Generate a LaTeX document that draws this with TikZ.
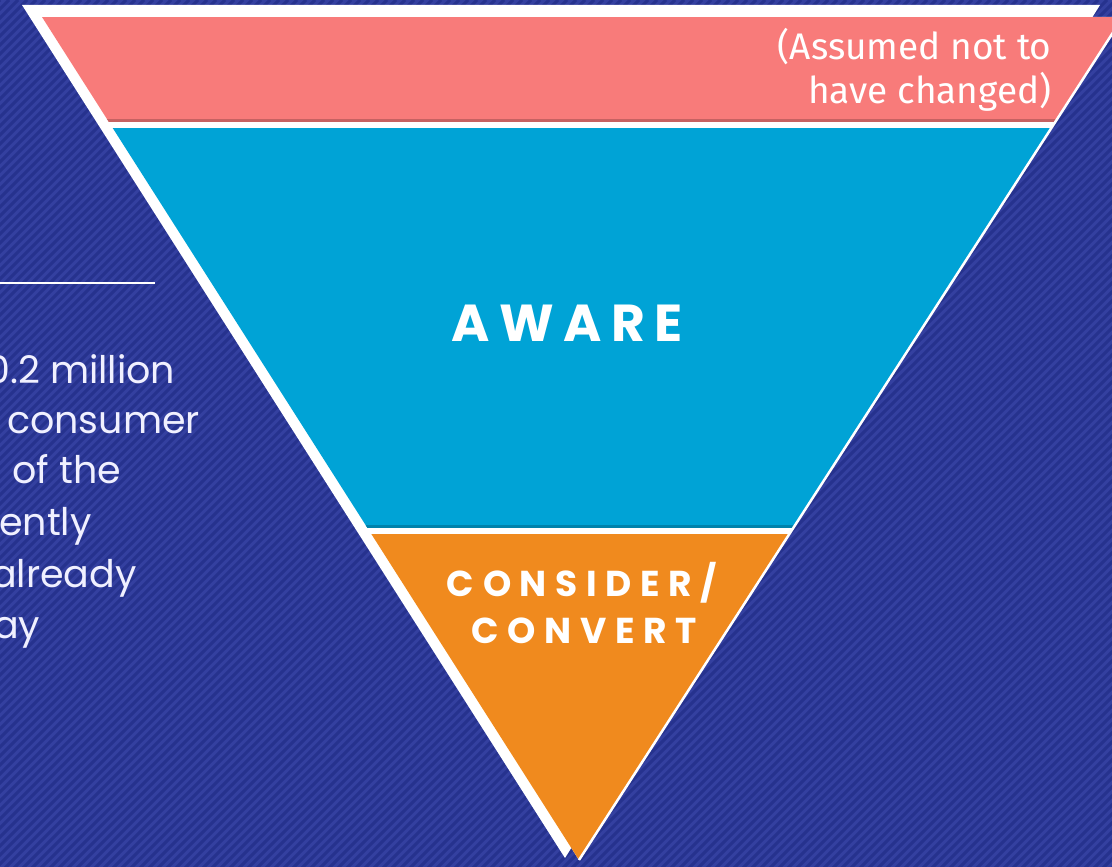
\documentclass[tikz,border=0pt]{standalone}
\usepackage{fontspec}
\setmainfont{Poppins}
\newfontfamily\notefont{Fira Sans}
\newfontfamily\awarefont[LetterSpace=18]{Poppins}
\newfontfamily\convfont[LetterSpace=24]{Poppins}
\definecolor{bgblue}{RGB}{52,64,160}
\definecolor{stripe}{RGB}{38,50,142}
\definecolor{topband}{RGB}{248,123,122}
\definecolor{midband}{RGB}{0,163,214}
\definecolor{lowband}{RGB}{240,138,30}
\newcommand{\band}[3]{
  \fill[#3] (0,#1) rectangle (1200,#2);
  \fill[#3!80!black] (0,#2-3) rectangle (1200,#2);
}

\begin{document}
\begin{tikzpicture}[x=1pt,y=-1pt]
  \useasboundingbox (0,0) rectangle (1112,867);
  \clip (0,0) rectangle (1112,867);
  \fill[bgblue] (0,0) rectangle (1112,867);
  \foreach \i in {-870,-861,...,1112} {
    \draw[stripe, line width=3] (\i,870) -- (\i+870,0);
  }

  \coordinate (wl) at (22,5);
  \coordinate (wr) at (1100,5);
  \coordinate (wt) at (565,858);
  \coordinate (fl) at (42,17);
  \coordinate (fr) at (1123,17);
  \coordinate (ft) at (579,860);

  \fill[white] (wl) -- (wr) -- (wt) -- cycle;
  \begin{scope}
    \clip (fl) -- (fr) -- (ft) -- cycle;
    \fill[white] (0,0) rectangle (1200,870);
    \band{17}{122}{topband}
    \band{128}{528}{midband}
    \band{534}{870}{lowband}
  \end{scope}
  \draw[white, line width=2.5] (fr) -- (ft);

  \node[anchor=base east, text=white, font=\notefont\fontsize{37}{43}\selectfont] (note1) at (1055,60) {(Assumed not to};
  \node[anchor=base east, text=white, font=\notefont\fontsize{37}{43}\selectfont] (note2) at (1055,103) {have changed)};

  \node[anchor=base, text=white, font=\awarefont\bfseries\fontsize{52}{52}\selectfont] (aware) at (567,341) {AWARE};
  \node[anchor=base, text=white, font=\convfont\bfseries\fontsize{36}{36}\selectfont] (consider) at (582,596) {CONSIDER/};
  \node[anchor=base, text=white, font=\convfont\bfseries\fontsize{36}{36}\selectfont] (convert) at (584,643) {CONVERT};

  \coordinate (rulel) at (0,283);
  \coordinate (ruler) at (155,283);
  \draw[white, line width=1.2] (rulel) -- (ruler);
  \foreach \txt/\xs/\yb [count=\k] in {0.2 million/-14/383, consumer/7/433, of the/12/483, ently/-1/535, already/-9/587, ay/-7/638} {
    \node[anchor=base west, inner sep=0, text=white!94!blue, font=\fontsize{38}{38}\selectfont] (line\k) at (\xs,\yb) {\txt};
  }
\end{tikzpicture}
\end{document}
